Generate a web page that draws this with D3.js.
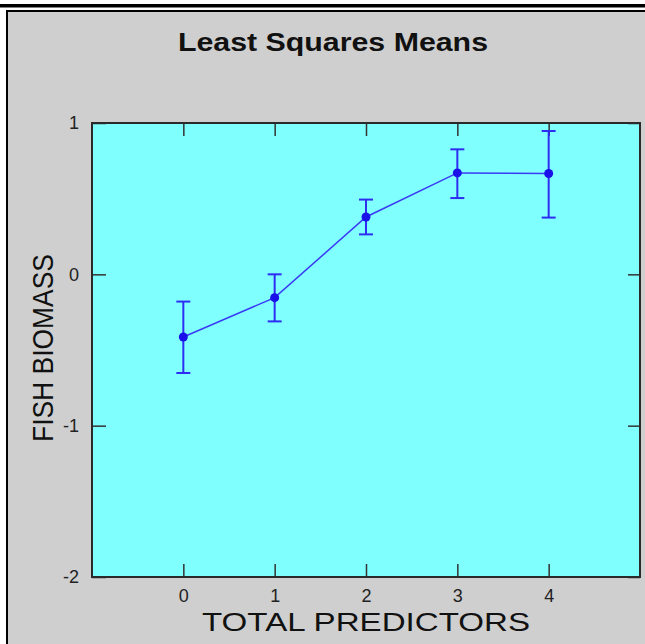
<!DOCTYPE html>
<html><head><meta charset="utf-8">
<script src="https://cdn.jsdelivr.net/npm/d3@7"></script>
<style>html,body{margin:0;padding:0;background:#fff;}svg{display:block;}</style>
</head><body>
<script>
const categories = [0, 1, 2, 3, 4];
const means = [-0.414, -0.154, 0.379, 0.67, 0.666];
const upper = [-0.18, 0.0, 0.494, 0.826, 0.947];
const lower = [-0.652, -0.311, 0.264, 0.504, 0.375];
const xTicks = [0, 1, 2, 3, 4];
const yTicks = [1, 0, -1, -2];

const W = 645, H = 644;
const svg = d3.select("body").append("svg").attr("width", W).attr("height", H);

svg.append("rect").attr("x", 0).attr("y", 4).attr("width", W).attr("height", 3.5).attr("fill", "#000");
svg.append("rect").attr("x", 7).attr("y", 11).attr("width", W + 10).attr("height", H + 10)
  .attr("fill", "#cfcfcf").attr("stroke", "#000").attr("stroke-width", 2);

const x = d3.scaleLinear().domain([-1, 5]).range([92, 640]);
const y = d3.scaleLinear().domain([-2, 1]).range([577, 123]);

svg.append("rect").attr("x", x(-1)).attr("y", y(1)).attr("width", x(5) - x(-1)).attr("height", y(-2) - y(1))
  .attr("fill", "#80ffff");

const font = "'Liberation Sans', Arial, sans-serif";
const fmt = d => String(d);

const gb = svg.append("g").attr("transform", `translate(0,${y(-2)})`)
  .call(d3.axisBottom(x).tickValues(xTicks).tickSize(-13).tickPadding(12).tickFormat(fmt));
const gt = svg.append("g").attr("transform", `translate(0,${y(1)})`)
  .call(d3.axisTop(x).tickValues(xTicks).tickSize(-13).tickFormat(""));
const gl = svg.append("g").attr("transform", `translate(${x(-1)},0)`)
  .call(d3.axisLeft(y).tickValues(yTicks).tickSize(-14).tickPadding(13).tickFormat(fmt));
const gr = svg.append("g").attr("transform", `translate(${x(5)},0)`)
  .call(d3.axisRight(y).tickValues(yTicks).tickSize(-12).tickFormat(""));
[gb, gt, gl, gr].forEach(g => {
  g.select(".domain").remove();
  g.selectAll(".tick line").attr("stroke", "#333").attr("stroke-width", 1.5);
  g.selectAll(".tick text").attr("fill", "#222").style("font-family", font).style("font-size", "18px");
});

svg.append("rect").attr("x", x(-1)).attr("y", y(1)).attr("width", x(5) - x(-1)).attr("height", y(-2) - y(1))
  .attr("fill", "none").attr("stroke", "#2a2a2a").attr("stroke-width", 2);

const data = categories.map((c, i) => ({c, m: means[i], hi: upper[i], lo: lower[i]}));

svg.append("path").datum(data)
  .attr("d", d3.line().x(d => x(d.c)).y(d => y(d.m)))
  .attr("fill", "none").attr("stroke", "#3a3af5").attr("stroke-width", 1.5);

const eb = svg.append("g").attr("stroke", "#2e2ef2").attr("stroke-width", 2);
eb.selectAll(".v").data(data).enter().append("line")
  .attr("x1", d => x(d.c)).attr("x2", d => x(d.c)).attr("y1", d => y(d.hi)).attr("y2", d => y(d.lo));
eb.selectAll(".t").data(data).enter().append("line")
  .attr("x1", d => x(d.c) - 7).attr("x2", d => x(d.c) + 7).attr("y1", d => y(d.hi)).attr("y2", d => y(d.hi));
eb.selectAll(".b").data(data).enter().append("line")
  .attr("x1", d => x(d.c) - 7).attr("x2", d => x(d.c) + 7).attr("y1", d => y(d.lo)).attr("y2", d => y(d.lo));

svg.append("g").selectAll("circle").data(data).enter().append("circle")
  .attr("cx", d => x(d.c)).attr("cy", d => y(d.m)).attr("r", 4.5).attr("fill", "#1a10e8");

svg.append("text").attr("x", 333).attr("y", 51).attr("text-anchor", "middle")
  .attr("textLength", 310).attr("lengthAdjust", "spacingAndGlyphs")
  .style("font-family", font).style("font-size", "25px").style("font-weight", "bold").attr("fill", "#111")
  .text("Least Squares Means");

svg.append("text").attr("x", 366).attr("y", 631).attr("text-anchor", "middle")
  .attr("textLength", 328).attr("lengthAdjust", "spacingAndGlyphs")
  .style("font-family", font).style("font-size", "26.5px").attr("fill", "#111")
  .text("TOTAL PREDICTORS");

svg.append("text").attr("transform", "translate(53,348) scale(1.08,1) rotate(-90)").attr("text-anchor", "middle")
  .attr("textLength", 188).attr("lengthAdjust", "spacingAndGlyphs")
  .style("font-family", font).style("font-size", "27px").attr("fill", "#111")
  .text("FISH BIOMASS");
</script>
</body></html>
